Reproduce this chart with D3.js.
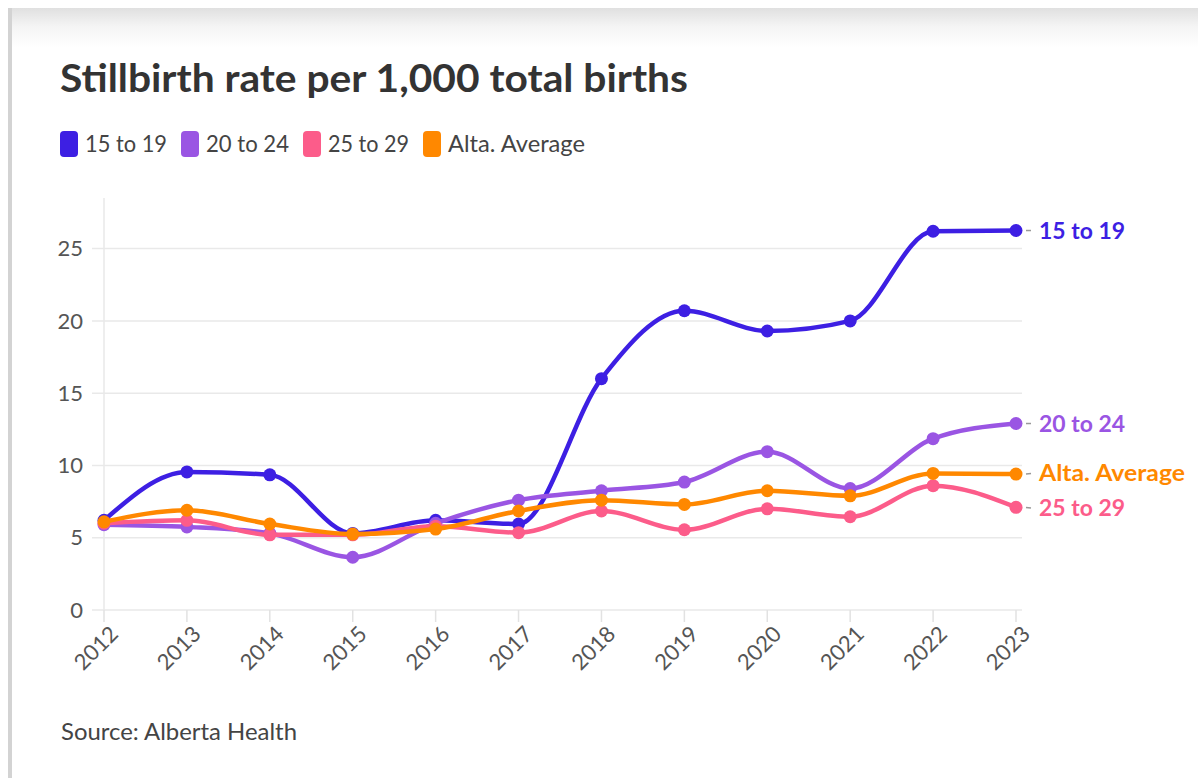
<!DOCTYPE html>
<html>
<head>
<meta charset="utf-8">
<script src="https://cdn.jsdelivr.net/npm/d3@7"></script>
<style>
  html, body { margin: 0; padding: 0; background: #fff; }
  svg { display: block; font-family: Lato, "Noto Sans", sans-serif; }
</style>
</head>
<body>
<svg id="chart" width="1198" height="778"></svg>
<script>
// ---- data ----
const years = ["2012","2013","2014","2015","2016","2017","2018","2019","2020","2021","2022","2023"];
const seriesNames = ["15 to 19", "20 to 24", "25 to 29", "Alta. Average"];
const seriesColors = ["#3d1fe3", "#9a55e3", "#fc5c8a", "#ff8800"];
const age15to19 = [6.2, 9.55, 9.35, 5.3, 6.2, 5.95, 16.0, 20.7, 19.3, 20.0, 26.2, 26.25];
const age20to24 = [5.9, 5.75, 5.3, 3.65, 6.0, 7.6, 8.25, 8.85, 10.95, 8.4, 11.85, 12.9];
const age25to29 = [6.0, 6.2, 5.2, 5.2, 5.8, 5.35, 6.85, 5.55, 7.0, 6.45, 8.6, 7.1];
const altaAverage = [6.1, 6.9, 5.95, 5.25, 5.6, 6.85, 7.6, 7.3, 8.25, 7.9, 9.45, 9.4];
const yTicks = [0, 5, 10, 15, 20, 25];
const titleText = "Stillbirth rate per 1,000 total births";
const sourceText = "Source: Alberta Health";

const seriesValues = [age15to19, age20to24, age25to29, altaAverage];
const series = seriesNames.map((n, i) => ({ name: n, color: seriesColors[i], values: seriesValues[i] }));

// ---- layout ----
const svg = d3.select("#chart");
const W = 1198, H = 778;
const plot = { left: 104, right: 1016, top: 198, bottom: 610 };

// frame: top shadow + left border
const defs = svg.append("defs");
const grad = defs.append("linearGradient").attr("id", "topShade").attr("x1", 0).attr("y1", 0).attr("x2", 0).attr("y2", 1);
grad.append("stop").attr("offset", "0%").attr("stop-color", "#e0e0e0");
grad.append("stop").attr("offset", "45%").attr("stop-color", "#f4f4f4");
grad.append("stop").attr("offset", "100%").attr("stop-color", "#ffffff");
svg.append("rect").attr("x", 0).attr("y", 0).attr("width", W).attr("height", H).attr("fill", "#fff");
svg.append("rect").attr("x", 8).attr("y", 8).attr("width", W - 8).attr("height", 40).attr("fill", "url(#topShade)");
svg.append("rect").attr("x", 8).attr("y", 8).attr("width", 4).attr("height", H - 8).attr("fill", "#d3d3d3");

function fitText(sel, width) {
  sel.attr("textLength", width).attr("lengthAdjust", "spacingAndGlyphs");
}

// title
svg.append("text").attr("x", 60).attr("y", 92)
  .attr("font-size", 39).attr("font-weight", 700).attr("fill", "#333")
  .text(titleText).call(fitText, 628);

// legend
const legendTextW = [82, 83, 81, 137];
let lx = 60;
series.forEach((s, i) => {
  svg.append("rect").attr("x", lx).attr("y", 131).attr("width", 18).attr("height", 26).attr("rx", 4).attr("fill", s.color);
  svg.append("text").attr("x", lx + 25).attr("y", 152).attr("font-size", 23).attr("fill", "#444")
    .text(s.name).call(fitText, legendTextW[i]);
  lx += 25 + legendTextW[i] + 14;
});

// scales
const x = d3.scalePoint().domain(years).range([plot.left, plot.right]);
const y = d3.scaleLinear().domain([0, 28.5]).range([plot.bottom, plot.top]);

// gridlines
const grid = svg.append("g");
grid.selectAll("line.h").data(yTicks).join("line")
  .attr("x1", 92).attr("x2", 1022)
  .attr("y1", d => y(d)).attr("y2", d => y(d))
  .attr("stroke", "#e9e9e9").attr("stroke-width", 1.5);
grid.append("line").attr("x1", plot.left).attr("x2", plot.left)
  .attr("y1", plot.top).attr("y2", plot.bottom)
  .attr("stroke", "#e9e9e9").attr("stroke-width", 1.5);

// y axis labels
svg.append("g").selectAll("text").data(yTicks).join("text")
  .attr("x", 83).attr("y", d => y(d)).attr("dy", "0.35em")
  .attr("text-anchor", "end").attr("font-size", 22).attr("fill", "#555")
  .text(d => d);

// x axis ticks + labels
const xg = svg.append("g");
xg.selectAll("line").data(years).join("line")
  .attr("x1", d => x(d)).attr("x2", d => x(d))
  .attr("y1", plot.bottom).attr("y2", plot.bottom + 12)
  .attr("stroke", "#e2e2e2").attr("stroke-width", 1.5);
xg.selectAll("text").data(years).join("text")
  .attr("transform", d => `translate(${x(d) + 10},${plot.bottom + 20}) rotate(-45)`)
  .attr("text-anchor", "end").attr("dy", "0.35em")
  .attr("font-size", 22).attr("fill", "#555")
  .text(d => d);

// lines
const line = d3.line().x((d, i) => x(years[i])).y(d => y(d)).curve(d3.curveMonotoneX);
const lg = svg.append("g");
series.forEach(s => {
  const g = lg.append("g");
  g.append("path").attr("d", line(s.values)).attr("fill", "none")
    .attr("stroke", s.color).attr("stroke-width", 4.5).attr("stroke-linecap", "round");
  g.selectAll("circle").data(s.values).join("circle")
    .attr("cx", (d, i) => x(years[i])).attr("cy", d => y(d)).attr("r", 6.5)
    .attr("fill", s.color);
});

// end labels with simple collision avoidance
const last = years.length - 1;
const labels = series.map(s => ({ s, py: y(s.values[last]), ly: y(s.values[last]) }))
  .sort((a, b) => a.py - b.py);
const gap = 35;
for (let iter = 0; iter < 20; iter++) {
  for (let i = 1; i < labels.length; i++) {
    const d = labels[i].ly - labels[i - 1].ly;
    if (d < gap) {
      const shift = (gap - d) / 2;
      labels[i].ly += shift;
      labels[i - 1].ly -= shift;
    }
  }
}
const labelW = { "15 to 19": 86, "20 to 24": 86, "25 to 29": 86, "Alta. Average": 146 };
const lab = svg.append("g");
labels.forEach(l => {
  const px = x(years[last]);
  lab.append("line").attr("x1", px + 10).attr("x2", px + 15)
    .attr("y1", l.py + (l.ly - l.py) * 0.2).attr("y2", l.py + (l.ly - l.py) * 0.8)
    .attr("stroke", "#999").attr("stroke-width", 1.5);
  lab.append("text").attr("x", px + 23).attr("y", l.ly).attr("dy", "0.35em")
    .attr("font-size", 23).attr("font-weight", 700).attr("fill", l.s.color)
    .text(l.s.name).call(fitText, labelW[l.s.name]);
});

// source
svg.append("text").attr("x", 61).attr("y", 740).attr("font-size", 23).attr("fill", "#444")
  .text(sourceText).call(fitText, 236);
</script>
</body>
</html>
